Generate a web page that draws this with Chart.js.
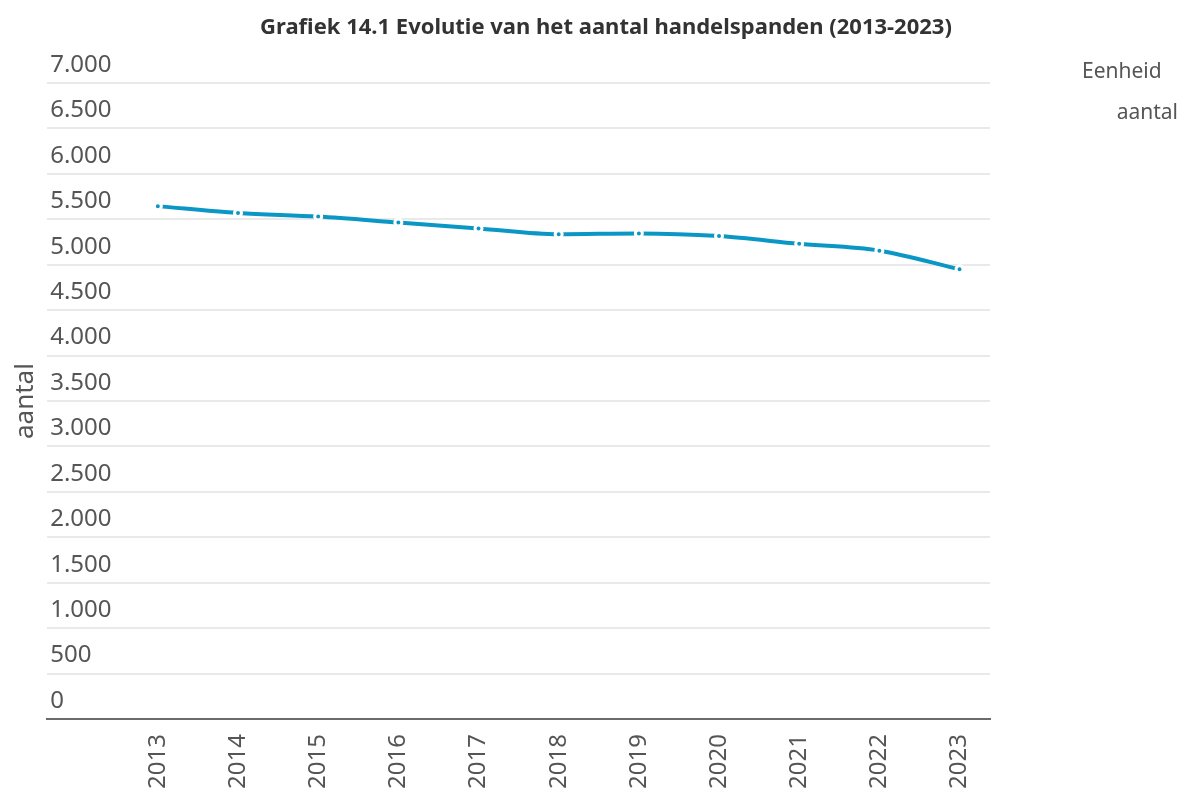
<!DOCTYPE html>
<html>
<head>
<meta charset="utf-8">
<title>Grafiek 14.1</title>
<script src="https://cdn.jsdelivr.net/npm/chart.js@4/dist/chart.umd.min.js"></script>
<style>
  html, body { margin: 0; padding: 0; background: #fff; }
  #wrap { width: 1187px; height: 792px; }
</style>
</head>
<body>
<div id="wrap"><canvas id="myChart" width="1187" height="792"></canvas></div>
<script>
// data
var jaren = [2013, 2014, 2015, 2016, 2017, 2018, 2019, 2020, 2021, 2022, 2023];
var aantal = [5645, 5570, 5530, 5465, 5400, 5335, 5345, 5315, 5230, 5155, 4950];
var titel = 'Grafiek 14.1 Evolutie van het aantal handelspanden (2013-2023)';
var eenheidLabel = 'Eenheid';
var eenheidWaarde = 'aantal';
var yTitel = 'aantal';

var lijnKleur = '#0b97c5';
var tekstKleur = '#555555';
var fontNaam = '"Noto Sans", "Open Sans", sans-serif';

// getal met punt als duizendtal scheiding
function formatNL(v) {
  return String(v).replace(/\B(?=(\d{3})+(?!\d))/g, '.');
}

// titel en eenheid tekst
var tekstPlugin = {
  id: 'tekstPlugin',
  afterDraw: function (chart) {
    var ctx = chart.ctx;
    ctx.save();
    ctx.textBaseline = 'middle';
    ctx.fillStyle = '#333333';
    ctx.font = 'bold 22px ' + fontNaam;
    ctx.textAlign = 'center';
    ctx.fillText(titel, 606, 28);

    ctx.fillStyle = tekstKleur;
    ctx.font = '21px ' + fontNaam;
    ctx.textAlign = 'left';
    ctx.fillText(eenheidLabel, 1082, 72);
    ctx.textAlign = 'right';
    ctx.fillText(eenheidWaarde, 1178, 113);
    ctx.restore();
  }
};

var ctx = document.getElementById('myChart').getContext('2d');
var myChart = new Chart(ctx, {
  type: 'line',
  data: {
    datasets: [{
      label: 'aantal',
      data: jaren.map(function (j, i) { return { x: j, y: aantal[i] }; }),
      borderColor: lijnKleur,
      backgroundColor: lijnKleur,
      borderWidth: 4,
      cubicInterpolationMode: 'monotone',
      pointRadius: 3.5,
      pointBorderWidth: 3,
      pointBackgroundColor: lijnKleur,
      pointBorderColor: '#ffffff',
      pointHoverRadius: 3.5,
      fill: false
    }]
  },
  options: {
    responsive: false,
    animation: false,
    devicePixelRatio: 1,
    layout: {
      padding: { top: 83, right: 197, bottom: -12, left: 10 }
    },
    plugins: {
      legend: { display: false },
      title: { display: false },
      tooltip: { enabled: false }
    },
    scales: {
      x: {
        type: 'linear',
        min: 2011.62,
        max: 2023.38,
        afterBuildTicks: function (axis) {
          axis.ticks = jaren.map(function (j) { return { value: j }; });
        },
        grid: { display: false, drawTicks: false },
        border: { display: true, color: '#6b6b6b', width: 2 },
        ticks: {
          autoSkip: false,
          minRotation: 90,
          maxRotation: 90,
          padding: 15,
          color: tekstKleur,
          font: { family: fontNaam, size: 24 },
          callback: function (v) { return String(v); }
        }
      },
      y: {
        min: 0,
        max: 7000,
        grid: { color: '#e9e9e9', lineWidth: 2, drawTicks: false },
        border: { display: false },
        ticks: {
          stepSize: 500,
          mirror: true,
          padding: 3,
          labelOffset: -18,
          color: tekstKleur,
          font: { family: fontNaam, size: 24 },
          callback: function (v) { return formatNL(v); }
        },
        title: {
          display: true,
          text: yTitel,
          color: tekstKleur,
          font: { family: fontNaam, size: 26 },
          padding: { top: 0, bottom: 0 }
        }
      }
    }
  },
  plugins: [tekstPlugin]
});
</script>
</body>
</html>
